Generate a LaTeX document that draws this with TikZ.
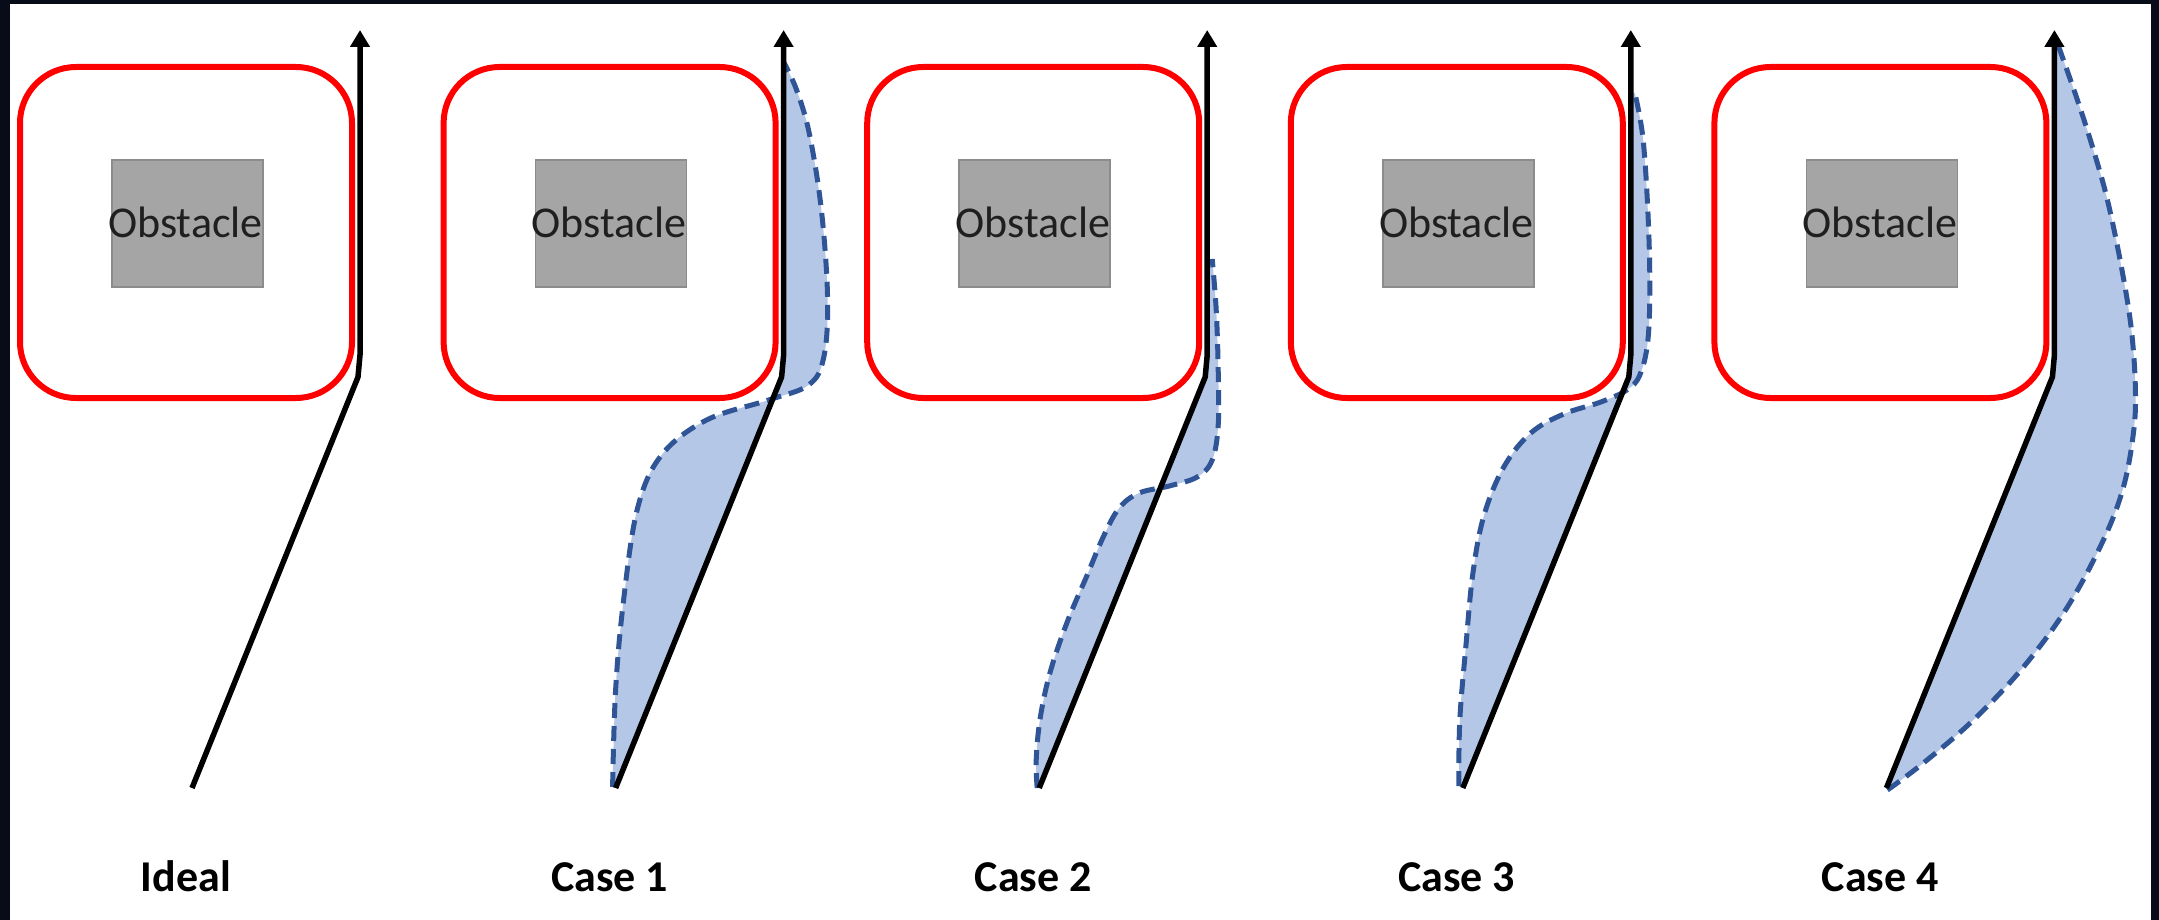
\documentclass[tikz,border=0pt]{standalone}
\usepackage{fontspec}
\setmainfont{Carlito}
\usetikzlibrary{arrows.meta}
\definecolor{framebg}{HTML}{070C18}
\definecolor{zonered}{HTML}{FF0000}
\definecolor{obsfill}{HTML}{A5A5A5}
\definecolor{obsedge}{HTML}{8C8C8C}
\definecolor{bandfill}{HTML}{B4C7E7}
\definecolor{bandedge}{HTML}{2F5597}
\tikzset{
  safezone/.style={draw=zonered, line width=6pt, rounded corners=56pt},
  obstaclebox/.style={fill=obsfill, draw=obsedge, line width=1.5pt},
  obstext/.style={font=\fontsize{44}{44}\selectfont, text=black!88, anchor=base, inner sep=0pt},
  caselabel/.style={font=\fontsize{44}{44}\selectfont\bfseries, anchor=base, inner sep=0pt},
  route/.style={draw=black, line width=5.5pt, line join=round, -{Triangle[width=19pt,length=17pt]}},
  bandarea/.style={fill=bandfill},
  bandline/.style={draw=bandedge, line width=5pt, dash pattern=on 15pt off 8pt, line join=round},
}
% safety zone, obstacle and reference path of one panel
\newcommand{\panelbase}[2]{%
  \draw[safezone] (20,67) rectangle (352,398);
  \draw[obstaclebox] (112,160) rectangle (263,287);
  \node[obstext] (obs#1) at (185.5,237) {Obstacle};
  \node[caselabel] (lbl#1) at (186,891) {#2};
  \coordinate (s#1) at (192,788);
  \coordinate (b#1) at (358,377);
  \coordinate (k#1) at (360,355);
  \coordinate (t#1) at (360,30);
}
\newcommand{\panelroute}[1]{%
  \draw[route] (s#1) -- (b#1) -- (k#1) -- (t#1);
}
\begin{document}
\begin{tikzpicture}[x=1pt,y=-1pt]
\useasboundingbox (0,0) rectangle (2159,920);
\fill[framebg] (0,0) rectangle (2159,920);
\fill[white] (10,4) rectangle (2151,920);

% Ideal
\begin{scope}
  \panelbase{0}{Ideal}
  \panelroute{0}
\end{scope}

% Case 1
\begin{scope}[xshift=423.6pt]
  \panelbase{1}{Case 1}
  \def\bandpts{(189,787) (192,690) (200,600) (214,508) (238,455) (283,420) (345,400) (385,385) (400,358) (404,300) (398,212) (386,135) (373,90) (360,62)}
  \fill[bandarea] plot[smooth, tension=0.6] coordinates {\bandpts} -- (360,62) -- (k1) -- (b1) -- (s1) -- cycle;
  \draw[bandline] plot[smooth, tension=0.6] coordinates {\bandpts};
  \panelroute{1}
\end{scope}

% Case 2
\begin{scope}[xshift=847.2pt]
  \panelbase{2}{Case 2}
  \def\bandpts{(190,788) (189,760) (193,718) (203,672) (220,622) (240,575) (256,537) (272,508) (292,493) (322,486) (350,477) (365,460) (371,425) (371,370) (369,310) (365,259)}
  \fill[bandarea] plot[smooth, tension=0.6] coordinates {\bandpts} -- (360,259) -- (k2) -- (b2) -- (s2) -- cycle;
  \draw[bandline] plot[smooth, tension=0.6] coordinates {\bandpts};
  \panelroute{2}
\end{scope}

% Case 3
\begin{scope}[xshift=1270.8pt]
  \panelbase{3}{Case 3}
  \def\bandpts{(188,786) (189,720) (195,647) (202,574) (213,516) (233,467) (260,433) (293,414) (330,402) (356,390) (369,375) (377,341) (379,283) (377,210) (372,137) (364,93)}
  \fill[bandarea] plot[smooth, tension=0.6] coordinates {\bandpts} -- (360,93) -- (k3) -- (b3) -- (s3) -- cycle;
  \draw[bandline] plot[smooth, tension=0.6] coordinates {\bandpts};
  \panelroute{3}
\end{scope}

% Case 4
\begin{scope}[xshift=1694.4pt]
  \panelbase{4}{Case 4}
  \def\bandpts{(193,790) (229,763) (279,720) (329,667) (373,607) (409,540) (429,487) (439,433) (441,390) (437,330) (427,267) (413,200) (399,150) (383,100) (364,46)}
  \fill[bandarea] plot[smooth, tension=0.6] coordinates {\bandpts} -- (360,46) -- (k4) -- (b4) -- (s4) -- cycle;
  \draw[bandline] plot[smooth, tension=0.6] coordinates {\bandpts};
  \panelroute{4}
\end{scope}
\end{tikzpicture}
\end{document}
